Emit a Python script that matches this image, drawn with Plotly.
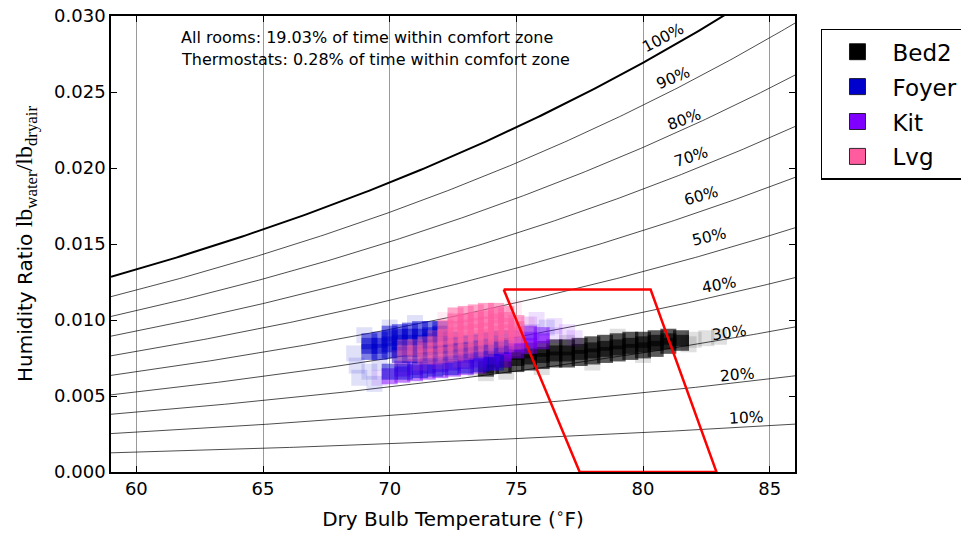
import numpy as np
import plotly.graph_objects as go

# ---------------- data ----------------
series_names = ["Bed2", "Foyer", "Kit", "Lvg"]
series_colors = ["#000000", "#0000cc", "#7f00ff", "#ff5ca0"]

bed2_core = [
    (73.8, 0.0068),
    (74.0, 0.0070), (74.0, 0.0074),
    (74.5, 0.0070), (74.5, 0.0074), (74.5, 0.0078),
    (75.0, 0.0071), (75.0, 0.0075), (75.0, 0.0079),
    (75.5, 0.0072), (75.5, 0.0076), (75.5, 0.0080),
    (76.0, 0.0073), (76.0, 0.0077), (76.0, 0.0081),
    (76.5, 0.0074), (76.5, 0.0078), (76.5, 0.0082),
    (77.0, 0.0074), (77.0, 0.0078), (77.0, 0.0082),
    (77.5, 0.0075), (77.5, 0.0079), (77.5, 0.0083),
    (78.0, 0.0076), (78.0, 0.0080), (78.0, 0.0084),
    (78.5, 0.0077), (78.5, 0.0081), (78.5, 0.0085),
    (79.0, 0.0078), (79.0, 0.0082), (79.0, 0.0086),
    (79.5, 0.0079), (79.5, 0.0083), (79.5, 0.0087),
    (80.0, 0.0080), (80.0, 0.0084), (80.0, 0.0087),
    (80.5, 0.0081), (80.5, 0.0085), (80.5, 0.0088),
    (81.0, 0.0083), (81.0, 0.0086), (81.0, 0.0089),
    (81.5, 0.0085), (81.5, 0.0088),
]
bed2_halo = [
    (73.4, 0.0068), (73.8, 0.0065), (74.6, 0.0066), (82.0, 0.0087),
    (82.5, 0.0088), (83.0, 0.0089), (76.0, 0.0069), (78.0, 0.0072),
    (80.0, 0.0077), (77.0, 0.0085), (79.0, 0.0089), (81.8, 0.0084),
]

foyer_core = [
    (69.2, 0.0079), (69.2, 0.0083), (69.2, 0.0086),
    (69.6, 0.0079), (69.6, 0.0083), (69.6, 0.0087),
    (70.0, 0.0080), (70.0, 0.0084), (70.0, 0.0088), (70.0, 0.0091),
    (70.4, 0.0077), (70.4, 0.0081), (70.4, 0.0085), (70.4, 0.0089), (70.4, 0.0092),
    (70.8, 0.0077), (70.8, 0.0081), (70.8, 0.0085), (70.8, 0.0089), (70.8, 0.0093),
    (71.2, 0.0077), (71.2, 0.0081), (71.2, 0.0085), (71.2, 0.0089), (71.2, 0.0094),
    (71.6, 0.0078), (71.6, 0.0082), (71.6, 0.0086), (71.6, 0.0090), (71.6, 0.0094),
    (72.0, 0.0078), (72.0, 0.0083), (72.0, 0.0087), (72.0, 0.0091), (72.0, 0.0094),
    (72.4, 0.0079), (72.4, 0.0083), (72.4, 0.0087),
    (72.8, 0.0080), (72.8, 0.0084), (73.2, 0.0080), (73.2, 0.0085),
    (73.6, 0.0081), (73.6, 0.0086), (74.0, 0.0082), (74.0, 0.0087),
    (74.4, 0.0083), (74.4, 0.0088),
    (70.0, 0.0066), (70.6, 0.0066), (71.2, 0.0067), (71.8, 0.0068),
    (72.4, 0.0069), (73.0, 0.0070), (73.6, 0.0071), (74.2, 0.0072),
]
foyer_halo = [
    (68.6, 0.0078), (68.7, 0.0070), (68.8, 0.0062), (69.2, 0.0066),
    (69.6, 0.0072), (69.0, 0.0090), (70.0, 0.0095), (71.0, 0.0098),
    (72.8, 0.0094), (74.8, 0.0091), (75.6, 0.0092),
    (70.5, 0.0071), (71.5, 0.0070), (69.4, 0.0058), (76.2, 0.0095),
]

kit_core = [
    (70.0, 0.0063),
    (70.5, 0.0064), (70.5, 0.0068),
    (71.0, 0.0065), (71.0, 0.0069),
    (71.5, 0.0066), (71.5, 0.0070),
    (72.0, 0.0067), (72.0, 0.0071),
    (72.5, 0.0068), (72.5, 0.0072),
    (73.0, 0.0069), (73.0, 0.0073), (73.0, 0.0077),
    (73.5, 0.0070), (73.5, 0.0074), (73.5, 0.0078),
    (74.0, 0.0072), (74.0, 0.0076), (74.0, 0.0080),
    (74.5, 0.0074), (74.5, 0.0078), (74.5, 0.0082),
    (75.0, 0.0080), (75.0, 0.0084), (75.0, 0.0088),
    (75.5, 0.0083), (75.5, 0.0087), (75.5, 0.0091),
    (76.0, 0.0086), (76.0, 0.0090),
]
kit_halo = [
    (76.5, 0.0090), (77.0, 0.0092), (76.5, 0.0096), (75.5, 0.0097),
    (69.6, 0.0062), (77.3, 0.0088), (75.8, 0.0100),
]

lvg_core = [
    (70.6, 0.0078), (70.6, 0.0082), (71.0, 0.0078), (71.0, 0.0082),
    (71.4, 0.0076), (71.4, 0.0080), (71.4, 0.0084),
    (71.8, 0.0076), (71.8, 0.0080), (71.8, 0.0084), (71.8, 0.0088),
    (72.2, 0.0077), (72.2, 0.0081), (72.2, 0.0085), (72.2, 0.0089), (72.2, 0.0095),
    (72.6, 0.0078), (72.6, 0.0082), (72.6, 0.0086), (72.6, 0.0090), (72.6, 0.0094), (72.6, 0.0099), (72.6, 0.0103),
    (73.0, 0.0079), (73.0, 0.0083), (73.0, 0.0087), (73.0, 0.0091), (73.0, 0.0095), (73.0, 0.0099), (73.0, 0.0104),
    (73.4, 0.0080), (73.4, 0.0084), (73.4, 0.0088), (73.4, 0.0092), (73.4, 0.0096), (73.4, 0.0100), (73.4, 0.0105),
    (73.8, 0.0081), (73.8, 0.0085), (73.8, 0.0089), (73.8, 0.0093), (73.8, 0.0097), (73.8, 0.0101), (73.8, 0.0106),
    (74.2, 0.0083), (74.2, 0.0087), (74.2, 0.0091), (74.2, 0.0095), (74.2, 0.0099), (74.2, 0.0103), (74.2, 0.0106),
    (74.6, 0.0084), (74.6, 0.0088), (74.6, 0.0092), (74.6, 0.0096), (74.6, 0.0100), (74.6, 0.0104),
    (75.0, 0.0086), (75.0, 0.0090), (75.0, 0.0094), (75.0, 0.0098),
]
lvg_halo = [
    (74.9, 0.0108), (72.0, 0.0073), (72.8, 0.0074), (75.4, 0.0097),
    (70.4, 0.0075), (72.2, 0.0100), (71.2, 0.0072),
]

# comfort zone polygon (closed)
comfort_t = [74.5, 80.3, 82.9, 77.5, 74.5]
comfort_w = [0.0120, 0.0120, 0.0000, 0.0000, 0.0120]

# relative-humidity curves and their labels
rh_levels = [10, 20, 30, 40, 50, 60, 70, 80, 90, 100]
rh_label_t = [84.05, 83.7, 83.4, 83.0, 82.6, 82.3, 81.9, 81.6, 81.2, 80.8]
rh_label_w = [0.00355, 0.00638, 0.00914, 0.0123, 0.01546, 0.01816, 0.02072, 0.02316, 0.02592, 0.02855]
rh_label_angle = [-3, -5, -8, -10, -13, -16, -18, -20, -23, -28]

annot_lines = [
    "All rooms: 19.03% of time within comfort zone",
    "Thermostats: 0.28% of time within comfort zone",
]

x_ticks = [60, 65, 70, 75, 80, 85]
y_ticks = [0.000, 0.005, 0.010, 0.015, 0.020, 0.025, 0.030]

P_ATM_KPA = 84.12  # site barometric pressure (~12.2 psia)

# ---------------- figure ----------------
fig = go.Figure()

t_curve = np.linspace(59, 86, 200)
t_c = (t_curve - 32) / 1.8
p_sat = 0.61094 * np.exp(17.625 * t_c / (t_c + 243.04))
for rh in rh_levels:
    pw = rh / 100.0 * p_sat
    w = 0.622 * pw / (P_ATM_KPA - pw)
    fig.add_trace(go.Scatter(
        x=t_curve, y=w, mode="lines", showlegend=False, hoverinfo="skip",
        line=dict(color="black", width=2 if rh == 100 else 0.7),
    ))

cloud_sets = {
    "Bed2": (bed2_core, bed2_halo),
    "Foyer": (foyer_core, foyer_halo),
    "Kit": (kit_core, kit_halo),
    "Lvg": (lvg_core, lvg_halo),
}
core_opacity = {"Bed2": 0.65, "Foyer": 0.5, "Kit": 0.5, "Lvg": 0.55}
color_of = dict(zip(series_names, series_colors))
draw_order = ["Bed2", "Kit", "Foyer", "Lvg"]


def add_points(pts, color, opacity, name):
    if not pts:
        return
    fig.add_trace(go.Scatter(
        x=[p[0] for p in pts], y=[p[1] for p in pts], mode="markers",
        marker=dict(symbol="square", size=16, color=color, opacity=opacity, line=dict(width=0)),
        showlegend=False, legendgroup=name, hoverinfo="skip",
    ))


for name in draw_order:
    core, halo = cloud_sets[name]
    color = color_of[name]
    add_points(halo, color, 0.12, name)
    if name == "Lvg":
        # the lower part of the Lvg cloud is thinner (blends with Foyer to magenta)
        add_points([p for p in core if p[1] < 0.0089], color, 0.3, name)
        add_points([p for p in core if p[1] >= 0.0089], color, core_opacity[name], name)
    else:
        add_points(core, color, core_opacity[name], name)

# legend entries
for name, color in zip(series_names, series_colors):
    fig.add_trace(go.Scatter(
        x=[None], y=[None], mode="markers", name=name, legendgroup=name,
        marker=dict(symbol="square", size=16, color=color, line=dict(color="black", width=0.8)),
    ))

fig.add_trace(go.Scatter(
    x=comfort_t, y=comfort_w, mode="lines", showlegend=False, hoverinfo="skip",
    line=dict(color="#ff0000", width=2.5),
))

for lab, t, w, ang in zip(rh_levels, rh_label_t, rh_label_w, rh_label_angle):
    fig.add_annotation(x=t, y=w, text=f"{lab}%", showarrow=False, textangle=ang,
                       font=dict(family="DejaVu Sans", size=15.5, color="black"))

for i, line in enumerate(annot_lines):
    fig.add_annotation(x=0.1, y=0.952 - i * 0.048, xref="paper", yref="paper",
                       text=line, showarrow=False, xanchor="left", yanchor="middle",
                       font=dict(family="DejaVu Sans", size=16, color="black"))

axis_common = dict(
    showline=True, linecolor="black", linewidth=1.5, mirror="ticks",
    ticks="inside", ticklen=6, tickcolor="black", tickwidth=1,
    zeroline=False, ticklabeloverflow="allow",
    tickfont=dict(family="DejaVu Sans", size=18, color="black"),
)

fig.update_xaxes(
    range=[59, 86], tickvals=x_ticks, showgrid=True, gridcolor="#9a9a9a", gridwidth=1,
    title=dict(text="Dry Bulb Temperature (<sup>∘</sup>F)", standoff=14,
               font=dict(family="DejaVu Sans", size=20, color="black")),
    **axis_common,
)
fig.update_yaxes(
    range=[0, 0.030], tickvals=y_ticks, tickformat=".3f", showgrid=False,
    title=dict(text="Humidity Ratio <span style='font-family:Liberation Serif;font-size:24px'>lb<sub>water</sub>/lb<sub>dryair</sub></span>",
               standoff=16, font=dict(family="DejaVu Sans", size=20, color="black")),
    **axis_common,
)

fig.update_layout(
    width=961, height=532,
    margin=dict(l=103, r=174, t=8, b=68, autoexpand=False),
    plot_bgcolor="white", paper_bgcolor="white",
    legend=dict(
        x=1.038, y=0.972, xanchor="left", yanchor="top",
        bordercolor="black", borderwidth=1.5, bgcolor="white",
        font=dict(family="DejaVu Sans", size=23, color="black"),
        tracegroupgap=2, itemwidth=60,
    ),
)

fig.write_html("out.html")
